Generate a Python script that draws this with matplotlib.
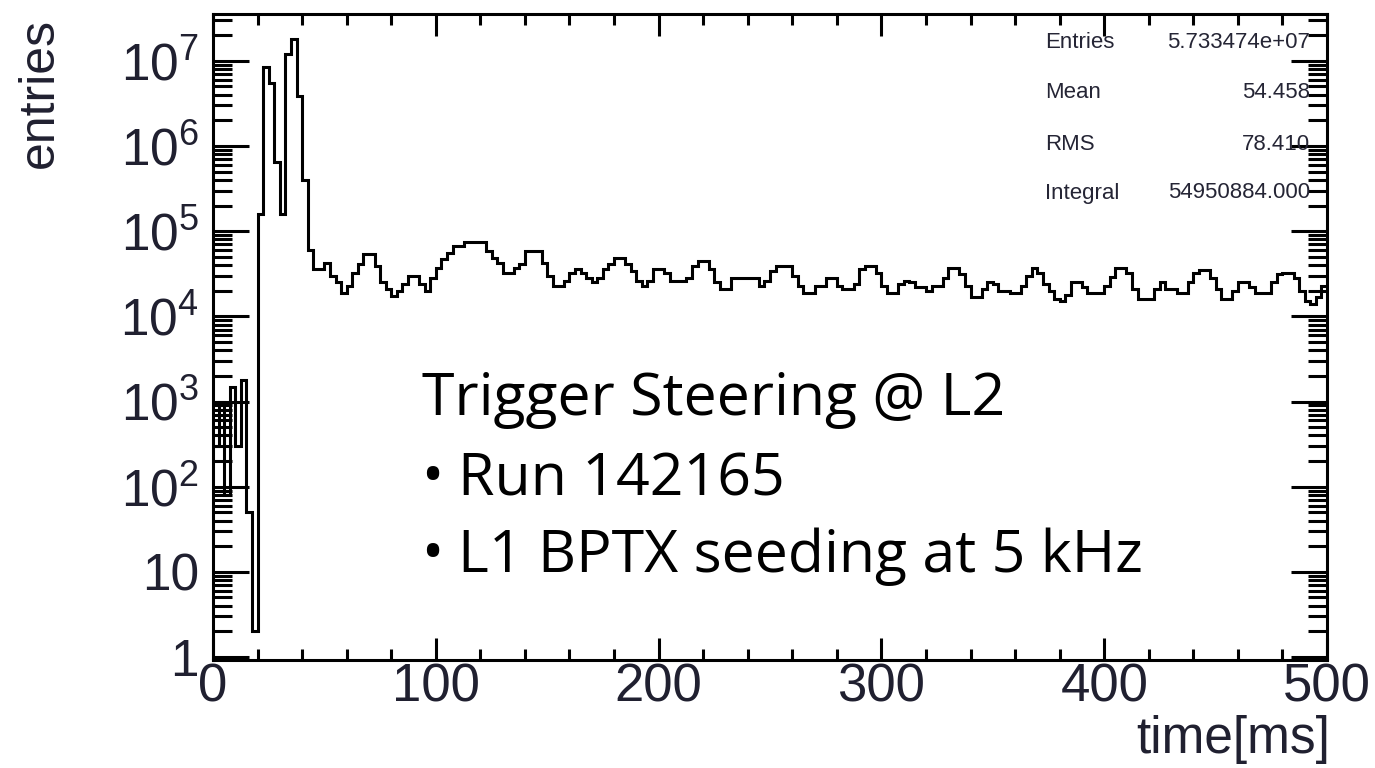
import numpy as np
import matplotlib
matplotlib.use('Agg')
import matplotlib.pyplot as plt
from matplotlib.ticker import FixedLocator, FuncFormatter, MultipleLocator

# histogram: 200 bins of 2.5 ms between 0 and 500 ms
bin_edges = np.linspace(0, 500, 201)
counts = [
    # 0 - 20 ms
    300, 1000, 80, 1500, 300, 1800, 50, 2,
    # 20 - 45 ms (the two big spikes)
    1.6e5, 8.5e6, 5.5e6, 6.5e5, 1.6e5, 1.2e7, 1.8e7, 3.9e6, 4e5, 6e4,
    # 45 - 100 ms
    3.6e4, 3.6e4, 4.2e4, 3.0e4, 2.5e4, 1.9e4, 2.3e4, 3.2e4, 4.1e4, 5.4e4,
    5.4e4, 3.9e4, 2.5e4, 2.1e4, 1.75e4, 2.0e4, 2.4e4, 3.0e4, 3.0e4, 2.4e4,
    2.0e4, 2.8e4,
    # 100 - 150 ms
    3.7e4, 4.7e4, 5.5e4, 6.7e4, 6.7e4, 7.5e4, 7.5e4, 7.5e4, 7.5e4, 5.9e4,
    4.9e4, 4.2e4, 3.2e4, 3.2e4, 3.7e4, 4.1e4, 5.9e4, 5.9e4, 5.9e4, 4.2e4,
    # 150 - 200 ms
    3.0e4, 2.3e4, 2.3e4, 2.6e4, 3.2e4, 3.6e4, 3.2e4, 2.8e4, 2.5e4, 2.8e4,
    3.6e4, 4.1e4, 4.9e4, 4.9e4, 4.1e4, 3.4e4, 2.6e4, 2.3e4, 2.6e4, 3.6e4,
    # 200 - 250 ms
    3.6e4, 3.2e4, 2.6e4, 2.6e4, 2.6e4, 2.8e4, 3.9e4, 4.5e4, 4.5e4, 3.6e4,
    2.5e4, 2.1e4, 2.1e4, 2.8e4, 2.8e4, 2.8e4, 2.8e4, 2.8e4, 2.3e4, 2.6e4,
    # 250 - 300 ms
    3.4e4, 3.9e4, 3.9e4, 3.9e4, 3.0e4, 2.3e4, 1.9e4, 1.9e4, 2.3e4, 2.3e4,
    2.8e4, 2.8e4, 2.3e4, 2.1e4, 2.1e4, 2.4e4, 3.6e4, 3.9e4, 3.9e4, 3.2e4,
    # 300 - 350 ms
    2.3e4, 1.9e4, 1.9e4, 2.4e4, 2.6e4, 2.5e4, 2.2e4, 2.2e4, 2.0e4, 2.3e4,
    2.3e4, 2.8e4, 3.7e4, 3.7e4, 3.1e4, 2.3e4, 1.7e4, 1.7e4, 2.1e4, 2.5e4,
    # 350 - 400 ms
    2.4e4, 2.0e4, 2.0e4, 1.9e4, 1.9e4, 2.3e4, 3.0e4, 3.7e4, 3.2e4, 2.4e4,
    2.0e4, 1.6e4, 1.5e4, 1.8e4, 2.5e4, 2.5e4, 2.2e4, 1.9e4, 1.9e4, 1.9e4,
    # 400 - 450 ms
    2.3e4, 2.9e4, 3.7e4, 3.7e4, 3.2e4, 2.1e4, 1.6e4, 1.6e4, 1.6e4, 2.1e4,
    2.5e4, 2.1e4, 2.1e4, 1.9e4, 1.9e4, 2.5e4, 3.2e4, 3.5e4, 3.5e4, 2.8e4,
    # 450 - 500 ms
    2.1e4, 1.6e4, 1.6e4, 2.0e4, 2.5e4, 2.5e4, 2.2e4, 1.9e4, 1.9e4, 1.9e4,
    2.5e4, 3.1e4, 3.2e4, 3.2e4, 2.8e4, 2.0e4, 1.5e4, 1.4e4, 1.7e4, 2.3e4,
]

stat_names = ['Entries', 'Mean', 'RMS', 'Integral']
stat_values = ['5.733474e+07', '54.458', '78.410', '54950884.000']

note_lines = ['Trigger Steering @ L2', 'Run 142165', 'L1 BPTX seeding at 5 kHz']

plt.rcParams['font.family'] = ['Liberation Sans', 'DejaVu Sans']
plt.rcParams['mathtext.fontset'] = 'custom'
plt.rcParams['mathtext.rm'] = 'Liberation Sans'
plt.rcParams['mathtext.it'] = 'Liberation Sans'

txt_col = '#202030'

W, H = 1375, 768
fig = plt.figure(figsize=(W / 100, H / 100), dpi=100)
ax = fig.add_axes([213 / W, 1 - 660 / H, (1327 - 213) / W, (660 - 14) / H])

ax.stairs(counts, bin_edges, baseline=None, color='black', linewidth=2.2)

ax.set_yscale('log')
ax.set_xlim(0, 500)
ax.set_ylim(10 ** -0.035, 10 ** 7.55)

for s in ax.spines.values():
    s.set_linewidth(2.2)

def ylab(v, pos):
    n = int(round(np.log10(v)))
    if n == 0:
        return '1'
    if n == 1:
        return '10'
    return '$10^{%d}$' % n

ax.yaxis.set_major_locator(FixedLocator([10.0 ** k for k in range(0, 8)]))
ax.yaxis.set_major_formatter(FuncFormatter(ylab))
ax.yaxis.set_minor_locator(matplotlib.ticker.LogLocator(base=10, subs=np.arange(2, 10), numticks=20))
ax.yaxis.set_minor_formatter(matplotlib.ticker.NullFormatter())
ax.xaxis.set_major_locator(MultipleLocator(100))
ax.xaxis.set_minor_locator(MultipleLocator(20))

ax.tick_params(axis='y', which='major', direction='in', length=26, width=2.2,
               left=True, right=True, labelsize=37, pad=10, labelcolor=txt_col)
ax.tick_params(axis='y', which='minor', direction='in', length=14, width=2.2,
               left=True, right=True)
ax.tick_params(axis='x', which='major', direction='in', length=16, width=2.2,
               bottom=True, top=True, labelsize=38, pad=2, labelcolor=txt_col)
ax.tick_params(axis='x', which='minor', direction='in', length=8, width=2.2,
               bottom=True, top=True)

fig.text(40 / W, 1 - 18 / H, 'entries', rotation=90, ha='center', va='top',
         fontsize=36, color=txt_col)
fig.text(1330 / W, 1 - 740 / H, 'time[ms]', ha='right', va='center',
         fontsize=37, color=txt_col)

# stats box
stat_y = [42, 92, 145, 193]
for name, val, yy in zip(stat_names, stat_values, stat_y):
    fig.text(1045 / W, 1 - yy / H, name, ha='left', va='center', fontsize=16, color='#252535')
    fig.text(1310 / W, 1 - yy / H, val, ha='right', va='center', fontsize=16, color='#252535')

# annotation: title line, then two bullet lines
note_font = ['Open Sans', 'DejaVu Sans']
fig.text(422 / W, 1 - 415 / H, note_lines[0], ha='left', va='baseline',
         fontsize=42.5, family=note_font, color='black')
for line, yy in zip(note_lines[1:], [495, 572]):
    fig.text(421 / W, 1 - yy / H, '\u2022', ha='left', va='baseline',
             fontsize=42.5, family=note_font, color='black')
    fig.text(458 / W, 1 - yy / H, line, ha='left', va='baseline',
             fontsize=42.5, family=note_font, color='black')

fig.savefig('out.png', dpi=100)
